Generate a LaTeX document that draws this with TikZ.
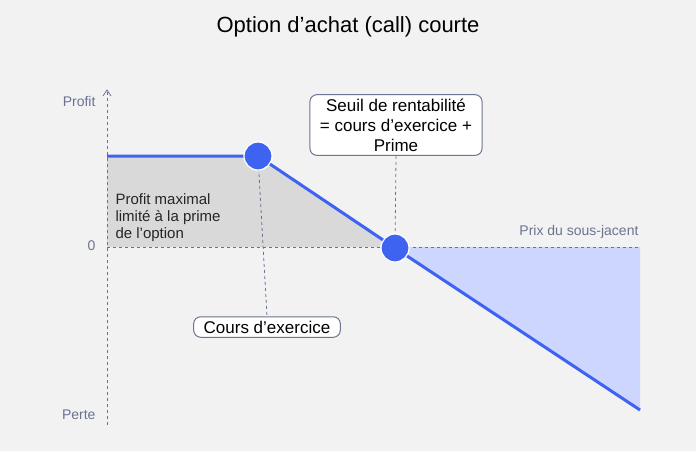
\documentclass[tikz,border=0pt]{standalone}
\usepackage{fontspec}
\setmainfont{Liberation Sans}
\usetikzlibrary{arrows.meta}
\definecolor{bg}{HTML}{F2F2F2}
\definecolor{ax}{HTML}{6B7390}
\definecolor{bl}{HTML}{3D63F0}
\definecolor{lbl}{HTML}{CCD6FF}
\definecolor{gfill}{HTML}{D9D9D9}
\begin{document}
\begin{tikzpicture}[x=1pt,y=-1pt,
  axlab/.style={text=ax,font=\fontsize{14}{16}\selectfont},
  callout/.style={draw=ax,fill=white,rounded corners=7pt,line width=1pt,align=center,font=\fontsize{17}{19}\selectfont,inner xsep=10pt,inner ysep=4pt},
  dot/.style={circle,fill=bl,draw=white,line width=1.2pt,minimum size=28pt,inner sep=0pt},
  guide/.style={ax,dash pattern=on 3pt off 3pt,line width=0.8pt}]
\fill[bg] (0,0) rectangle (696,451);
\useasboundingbox (0,0) rectangle (696,451);
\node (title) at (348,27) {\fontsize{22}{26}\selectfont Option d’achat (call) courte};
\fill[gfill] (107,156) -- (258,156) -- (395,247) -- (107,247) -- cycle;
\fill[lbl] (395,247) -- (640,247) -- (640,410) -- cycle;
\coordinate (ytop) at (107,90);
\coordinate (ybot) at (107,425);
\draw[guide] (ybot) -- (ytop);
\draw[ax,line width=0.8pt] (103,96) -- (ytop) -- (111,96);
\coordinate (xl) at (107,247);
\coordinate (xr) at (640,247);
\draw[guide] (xl) -- (xr);
\node[axlab,anchor=east] (profit) at (99,101) {Profit};
\node[axlab,anchor=east] (zero) at (99,246) {0};
\node[axlab,anchor=east] (perte) at (99,415) {Perte};
\node[axlab,anchor=south east] (prix) at (642,242) {Prix du sous-jacent};
\node[callout] (ce) at (267,327) {Cours d’exercice};
\node[callout,font=\fontsize{17}{20}\selectfont] (seuil) at (396,125) {Seuil de rentabilité\\= cours d’exercice +\\Prime};
\coordinate (p0) at (107,156);
\coordinate (p3) at (640,410);
\node[dot] (d1) at (258,156) {};
\node[dot] (d2) at (395,248) {};
\draw[guide] (d1.center) -- (ce.north);
\draw[guide] (seuil.south) -- (d2.center);
\draw[bl,line width=3pt,line join=round] (p0) -- (d1.center) -- (d2.center) -- (p3);
\node[dot] at (258,156) {};
\node[dot] at (395,248) {};
\node[anchor=north west,align=left,font=\fontsize{15}{17}\selectfont,text=black!85] (pm) at (112,190) {Profit maximal\\limité à la prime\\de l’option};
\end{tikzpicture}
\end{document}
